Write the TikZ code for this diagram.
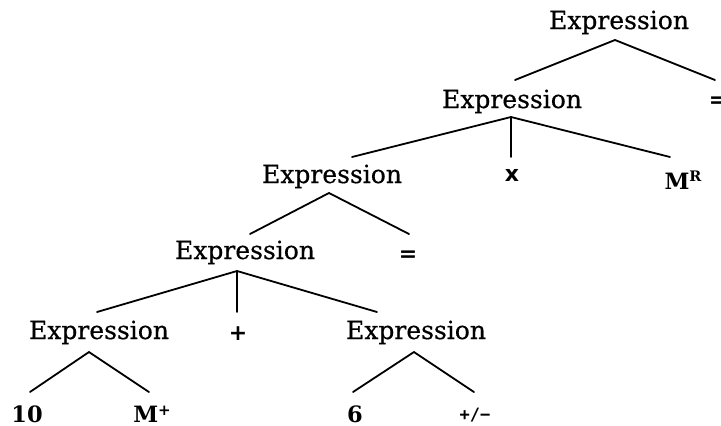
\documentclass[tikz,border=0pt]{standalone}
\usepackage{fontspec}
\setmainfont{DejaVu Serif}
\newfontfamily\heavyfont[FakeBold=0.5]{DejaVu Serif}
\newfontfamily\symfont{DejaVu Sans}
\newfontfamily\monofont{DejaVu Sans Mono}
\newcommand{\supR}{\raisebox{8pt}{\fontsize{14.5}{15}\selectfont\bfseries R}}
\newcommand{\supP}{\raisebox{7pt}{\fontsize{15}{16}\selectfont\symfont +}}
\begin{document}
\begin{tikzpicture}[x=1pt,y=-1pt,
  lbl/.style={inner sep=0pt,anchor=base,font=\fontsize{25}{28}\selectfont\heavyfont},
  bld/.style={inner sep=0pt,anchor=base,font=\fontsize{22.5}{26}\selectfont\bfseries},
  sym/.style={inner sep=0pt,anchor=base,font=\fontsize{22}{26}\selectfont\symfont\bfseries},
  edge/.style={line width=1.8pt,line cap=round}]
\useasboundingbox (0,0) rectangle (721,426);
\node[lbl] (e1) at (619,29) {Expression};
\node[sym] (eq1) at (718,107) {=};
\node[lbl] (e2) at (512,108) {Expression};
\node[sym] (x) at (512,181) {x};
\node[bld] (MR) at (683,189) {M\supR};
\node[lbl] (e3) at (332,183) {Expression};
\node[sym] (eq2) at (408,261) {=};
\node[lbl] (e4) at (245,259) {Expression};
\node[lbl] (e5) at (99,339) {Expression};
\node[sym] (plus) at (238,340) {+};
\node[lbl] (e6) at (416,339) {Expression};
\node[bld] (n10) at (27,422) {10};
\node[bld] (Mp) at (152,422) {M\supP};
\node[bld] (n6) at (355,422) {6};
\node[inner sep=0pt,anchor=base,font=\fontsize{17}{19}\selectfont\monofont\bfseries] (pm) at (475,420) {+/−};
% connectors
\draw[edge] ([shift={(3,-28)}]e2.base) -- ([shift={(-4,11)}]e1.base) -- ([shift={(-3,-27)}]eq1.base);
\draw[edge] ([shift={(20,-26)}]e3.base) -- ([shift={(-1,9)}]e2.base) -- ([shift={(-13,-32)}]MR.base);
\draw[edge] ([shift={(-1,9)}]e2.base) -- ([shift={(-1,-24)}]x.base);
\draw[edge] ([shift={(5,-25)}]e4.base) -- ([shift={(-3,10)}]e3.base) -- ([shift={(1,-27)}]eq2.base);
\draw[edge] ([shift={(-2,-27)}]e5.base) -- ([shift={(-8,12)}]e4.base) -- ([shift={(-39,-27)}]e6.base);
\draw[edge] ([shift={(-8,12)}]e4.base) -- ([shift={(-1,-28)}]plus.base);
\draw[edge] ([shift={(3,-30)}]n10.base) -- ([shift={(-10,13)}]e5.base) -- ([shift={(-3,-30)}]Mp.base);
\draw[edge] ([shift={(-2,-30)}]n6.base) -- ([shift={(-2,13)}]e6.base) -- ([shift={(-1,-28)}]pm.base);
\end{tikzpicture}
\end{document}
